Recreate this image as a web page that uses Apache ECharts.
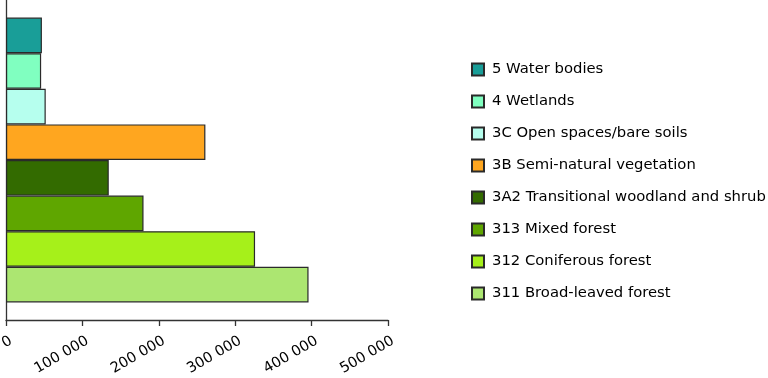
<!DOCTYPE html>
<html>
<head>
<meta charset="utf-8">
<script src="https://cdn.jsdelivr.net/npm/echarts@6/dist/echarts.min.js"></script>
<style>html,body{margin:0;padding:0;background:#fff}#c{width:768px;height:378px}</style>
</head>
<body>
<div id="c"></div>
<script>
const seriesNames = ['5 Water bodies','4 Wetlands','3C Open spaces/bare soils','3B Semi-natural vegetation','3A2 Transitional woodland and shrub','313 Mixed forest','312 Coniferous forest','311 Broad-leaved forest'];
const seriesValues = [47000, 46000, 52000, 261000, 134500, 180000, 326000, 396000];
const seriesColors = ['#199e98','#80ffc0','#b6ffee','#ffa61f','#336b00','#5fa600','#a6f01a','#ace671'];
const xTicks = [0, 100000, 200000, 300000, 400000, 500000];
const FONT = 'DejaVu Sans';

const chart = echarts.init(document.getElementById('c'));
const fmt = v => String(v).replace(/\B(?=(\d{3})+(?!\d))/g, ' ');
const series = seriesNames.map((n, i) => ({
  name: n,
  type: 'bar',
  data: [seriesValues[i]],
  barGap: '0%',
  barCategoryGap: '11%',
  itemStyle: { color: seriesColors[i], borderColor: '#2a2a2a', borderWidth: 1.2 }
}));
chart.setOption({
  animation: false,
  grid: { left: 6, right: 380, top: 0, bottom: 58, containLabel: false, outerBoundsMode: 'none' },
  xAxis: {
    type: 'value', min: xTicks[0], max: xTicks[xTicks.length-1], interval: 100000,
    splitLine: { show: false },
    axisLine: { show: true, lineStyle: { color: '#333', width: 1.3 } },
    axisTick: { show: true, length: 6, lineStyle: { color: '#333', width: 1.3 } },
    axisLabel: { rotate: 30, margin: 23, padding: [0, -6, 0, 0], color: '#000', fontFamily: FONT, fontSize: 14.5, formatter: fmt }
  },
  yAxis: {
    type: 'category', data: [''], inverse: true,
    axisLine: { show: true, lineStyle: { color: '#333', width: 1.3 } },
    axisTick: { show: false }, axisLabel: { show: false }
  },
  legend: {
    orient: 'vertical', left: 466, top: 57,
    itemWidth: 12, itemHeight: 12, itemGap: 17,
    icon: 'rect',
    textStyle: { fontFamily: FONT, fontSize: 14.8, color: '#000', lineHeight: 14, padding: [0, 0, 0, 3] },
    data: seriesNames
  },
  series
});
</script>
</body>
</html>
